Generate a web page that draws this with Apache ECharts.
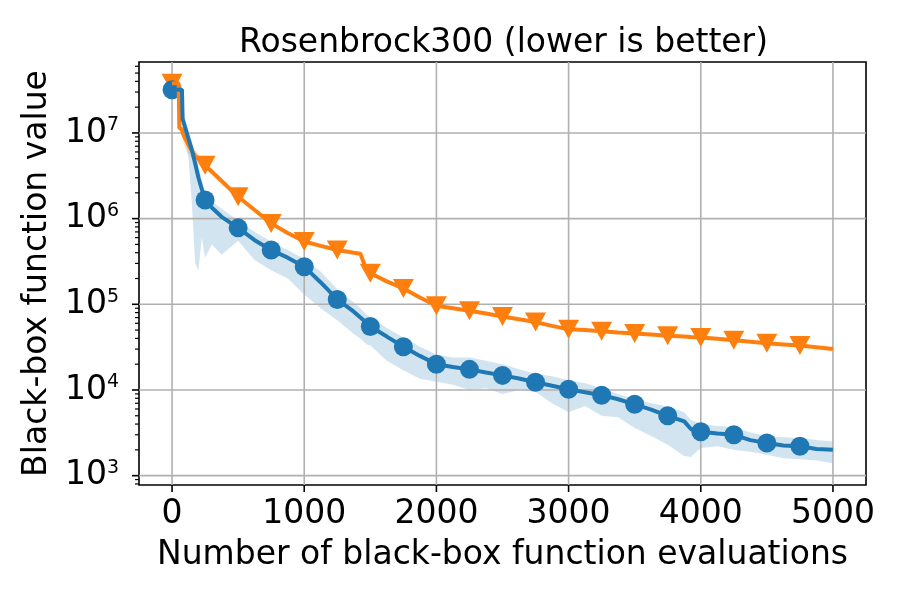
<!DOCTYPE html>
<html>
<head>
<meta charset="utf-8">
<title>Rosenbrock300</title>
<script src="https://cdn.jsdelivr.net/npm/echarts@6/dist/echarts.min.js"></script>
<style>
  html, body { margin: 0; padding: 0; background: #fff; }
  #chart { width: 900px; height: 600px; }
</style>
</head>
<body>
<div id="chart"></div>
<script>
// evaluations (x)
const evals = [0, 50, 55, 75, 80, 100, 125, 150, 175, 200, 225, 250, 300, 375,
  500, 625, 750, 875, 1000, 1125, 1250, 1375, 1425, 1475, 1500, 1625, 1750, 1875,
  2000, 2125, 2250, 2375, 2500, 2625, 2750, 2875, 3000, 3125, 3250, 3375, 3500,
  3625, 3750, 3875, 3925, 4000, 4125, 4250, 4375, 4500, 4625, 4750, 4875, 5000];

// blue method: median and band
const blueMedian = [3.2e7, 3.2e7, 3.2e7, 3.2e7, 1.45e7, 1.15e7, 8.5e6, 6.3e6, 4.4e6, 3.0e6, 2.2e6, 1.65e6, 1.35e6, 1.05e6,
  7.8e5, 5.6e5, 4.3e5, 3.5e5, 2.75e5, 1.8e5, 1.14e5, 8.2e4, 7.0e4, 6.0e4, 5.5e4, 4.2e4, 3.2e4, 2.5e4,
  2.0e4, 1.85e4, 1.74e4, 1.6e4, 1.48e4, 1.36e4, 1.23e4, 1.12e4, 1.02e4, 9.4e3, 8.7e3, 7.8e3, 6.8e3,
  5.9e3, 5.0e3, 4.3e3, 3.5e3, 3.25e3, 3.1e3, 3.0e3, 2.6e3, 2.4e3, 2.25e3, 2.2e3, 2.05e3, 2.0e3];
const blueLow = [3.0e7, 3.0e7, 3.0e7, 2.8e7, 1.2e7, 8.0e6, 5.0e6, 1.5e6, 3.0e5, 2.5e5, 6.0e5, 3.5e5, 5.0e5, 3.8e5,
  5.5e5, 3.3e5, 2.5e5, 2.0e5, 1.3e5, 9.0e4, 6.5e4, 4.5e4, 4.0e4, 3.4e4, 3.3e4, 2.2e4, 1.7e4, 1.35e4,
  1.25e4, 1.15e4, 1.0e4, 1.05e4, 9.0e3, 1.0e4, 9.5e3, 7.0e3, 5.5e3, 6.5e3, 5.0e3, 4.8e3, 3.6e3,
  2.9e3, 2.3e3, 1.7e3, 1.65e3, 2.1e3, 2.2e3, 2.0e3, 1.9e3, 1.75e3, 1.6e3, 1.55e3, 1.5e3, 1.4e3];
const blueHigh = [3.6e7, 3.6e7, 3.6e7, 3.6e7, 2.0e7, 1.4e7, 1.05e7, 8.0e6, 5.5e6, 4.0e6, 2.8e6, 2.1e6, 1.6e6, 1.3e6,
  9.5e5, 7.0e5, 5.4e5, 4.3e5, 3.4e5, 2.4e5, 1.5e5, 1.05e5, 9.0e4, 7.5e4, 7.0e4, 5.3e4, 4.1e4, 3.2e4,
  2.6e4, 2.4e4, 2.4e4, 2.2e4, 2.0e4, 1.75e4, 1.55e4, 1.45e4, 1.3e4, 1.2e4, 1.05e4, 9.0e3, 7.8e3,
  7.0e3, 6.4e3, 5.5e3, 4.5e3, 4.0e3, 3.8e3, 3.7e3, 3.2e3, 2.9e3, 2.8e3, 2.75e3, 2.6e3, 2.5e3];

// orange method: median
const orangeMedian = [3.8e7, 3.8e7, 1.15e7, 1.1e7, 1.0e7, 8.6e6, 7.2e6, 6.2e6, 5.4e6, 5.0e6, 4.6e6, 4.2e6, 3.55e6, 2.75e6,
  1.8e6, 1.26e6, 8.8e5, 6.8e5, 5.4e5, 4.8e5, 4.3e5, 4.0e5, 3.9e5, 2.4e5, 2.3e5, 1.85e5, 1.53e5, 1.2e5,
  9.6e4, 9.0e4, 8.4e4, 7.8e4, 7.2e4, 6.7e4, 6.2e4, 5.6e4, 5.1e4, 5.0e4, 4.85e4, 4.7e4, 4.57e4,
  4.45e4, 4.3e4, 4.2e4, 4.15e4, 4.1e4, 3.95e4, 3.8e4, 3.65e4, 3.5e4, 3.4e4, 3.3e4, 3.15e4, 3.0e4];
// orange band is only visible at the start
const orangeBandX = [0, 50, 55, 75, 80, 100, 125, 150, 175, 200, 225, 250, 300];
const orangeLow = [3.6e7, 3.6e7, 1.05e7, 1.0e7, 8.0e6, 6.6e6, 5.6e6, 5.0e6, 4.5e6, 4.2e6, 4.0e6, 3.8e6, 3.3e6];
const orangeHigh = [4.0e7, 4.0e7, 1.3e7, 1.25e7, 1.2e7, 1.05e7, 9.0e6, 7.6e6, 6.4e6, 5.6e6, 5.0e6, 4.5e6, 3.7e6];

// axes
const xMin = -250, xMax = 5250;
const yMin = 778, yMax = 6.73e7;
const xTicks = [0, 1000, 2000, 3000, 4000, 5000];
const yDecades = [1e3, 1e4, 1e5, 1e6, 1e7];
const markEvery = 250;

const FONT = 'DejaVu Sans';
const BLUE = '#1f77b4', ORANGE = '#ff7f0e';

let yMinor = [];
[100, 1000, 10000, 100000, 1000000, 10000000].forEach(function (d) {
  for (let k = 2; k <= 9; k++) {
    let v = d * k;
    if (v > yMin && v < yMax) yMinor.push(v);
  }
});

function pairs(xs, ys) {
  return xs.map(function (x, i) { return [x, ys[i]]; });
}
function markers(ys) {
  let out = [];
  evals.forEach(function (x, i) {
    if (x % markEvery === 0 && x < 5000) out.push([x, ys[i]]);
  });
  return out;
}

// fill_between: one polygon, upper edge forward and lower edge back
function band(xs, lo, hi, color) {
  return {
    type: 'custom', silent: true,
    data: xs.map(function (x, i) { return [x, lo[i], hi[i]]; }),
    encode: { x: 0, y: [1, 2] },
    renderItem: function (params, api) {
      if (params.dataIndex !== 0) return null;
      let pts = [];
      for (let i = 0; i < xs.length; i++) pts.push(api.coord([xs[i], hi[i]]));
      for (let i = xs.length - 1; i >= 0; i--) pts.push(api.coord([xs[i], lo[i]]));
      return {
        type: 'polygon',
        shape: { points: pts },
        style: { fill: color, opacity: 0.2 }
      };
    }
  };
}

function lineStyle(color) {
  return { color: color, width: 4 };
}

const gridColor = '#b0b0b0';

let xGridSeries = {
  type: 'custom', clip: false, silent: true,
  data: xTicks.map(function (v) { return [v, yMin]; }),
  renderItem: function (params, api) {
    let p0 = api.coord([api.value(0), yMin]);
    let p1 = api.coord([api.value(0), yMax]);
    return {
      type: 'group', children: [
        { type: 'line', shape: { x1: p0[0], y1: p0[1], x2: p1[0], y2: p1[1] }, style: { stroke: gridColor, lineWidth: 1.6 } },
        { type: 'line', shape: { x1: p0[0], y1: p0[1], x2: p0[0], y2: p0[1] + 7 }, style: { stroke: '#000', lineWidth: 1.6 } }
      ]
    };
  }
};

let yGridSeries = {
  type: 'custom', clip: false, silent: true,
  data: yDecades.map(function (v) { return [xMin, v]; }),
  renderItem: function (params, api) {
    let p0 = api.coord([xMin, api.value(1)]);
    let p1 = api.coord([xMax, api.value(1)]);
    return {
      type: 'group', children: [
        { type: 'line', shape: { x1: p0[0], y1: p0[1], x2: p1[0], y2: p1[1] }, style: { stroke: gridColor, lineWidth: 1.6 } },
        { type: 'line', shape: { x1: p0[0] - 7, y1: p0[1], x2: p0[0], y2: p0[1] }, style: { stroke: '#000', lineWidth: 1.6 } }
      ]
    };
  }
};

let yMinorSeries = {
  type: 'custom', clip: false, silent: true,
  data: yMinor.map(function (v) { return [xMin, v]; }),
  renderItem: function (params, api) {
    let p = api.coord([xMin, api.value(1)]);
    return { type: 'line', shape: { x1: p[0] - 4, y1: p[1], x2: p[0], y2: p[1] }, style: { stroke: '#000', lineWidth: 1.2 } };
  }
};

let series = [
  band(orangeBandX, orangeLow, orangeHigh, ORANGE),
  band(evals, blueLow, blueHigh, BLUE),
  xGridSeries, yGridSeries, yMinorSeries,
  {
    type: 'line', name: 'orange', data: pairs(evals, orangeMedian),
    showSymbol: false, lineStyle: lineStyle(ORANGE), itemStyle: { color: ORANGE }
  }, {
    type: 'scatter', name: 'orangeMarks', data: markers(orangeMedian),
    symbol: 'triangle', symbolRotate: 180, symbolSize: [21, 19],
    itemStyle: { color: ORANGE, opacity: 1 }
  }, {
    type: 'line', name: 'blue', data: pairs(evals, blueMedian),
    showSymbol: false, lineStyle: lineStyle(BLUE), itemStyle: { color: BLUE }
  }, {
    type: 'scatter', name: 'blueMarks', data: markers(blueMedian),
    symbol: 'circle', symbolSize: 19,
    itemStyle: { color: BLUE, opacity: 1 }
  }
];

let chart = echarts.init(document.getElementById('chart'));
chart.setOption({
  animation: false,
  backgroundColor: '#fff',
  textStyle: { fontFamily: FONT, color: '#000' },
  title: {
    text: 'Rosenbrock300 (lower is better)',
    left: 234, top: 22,
    textStyle: { fontFamily: FONT, fontSize: 33, fontWeight: 'normal', color: '#000' }
  },
  grid: {
    left: 139, right: 34, top: 62, bottom: 115,
    show: true, borderColor: '#000', borderWidth: 1.6
  },
  xAxis: {
    type: 'value', min: xMin, max: xMax,
    name: 'Number of black-box function evaluations',
    nameLocation: 'middle', nameGap: 54,
    nameTextStyle: { fontFamily: FONT, fontSize: 33, color: '#000' },
    axisLine: { show: false }, axisTick: { show: false }, splitLine: { show: false },
    axisLabel: {
      margin: 13, fontFamily: FONT, fontSize: 33, color: '#000',
      formatter: function (v) { return xTicks.indexOf(v) >= 0 ? String(v) : ''; }
    }
  },
  yAxis: {
    type: 'log', min: yMin, max: yMax,
    name: 'Black-box function value',
    nameLocation: 'middle', nameGap: 84,
    nameTextStyle: { fontFamily: FONT, fontSize: 33, color: '#000' },
    axisLine: { show: false }, axisTick: { show: false }, splitLine: { show: false },
    axisLabel: {
      margin: 20, color: '#000',
      formatter: function (v) {
        let l = Math.log10(v), e = Math.round(l);
        if (Math.abs(l - e) > 1e-6) return '';
        return '{b|10}{s|' + e + '}';
      },
      rich: {
        b: { fontFamily: FONT, fontSize: 33, lineHeight: 36, color: '#000' },
        s: { fontFamily: FONT, fontSize: 19, color: '#000', verticalAlign: 'top', padding: [1, 0, 0, 0] }
      }
    }
  },
  series: series
});
</script>
</body>
</html>
